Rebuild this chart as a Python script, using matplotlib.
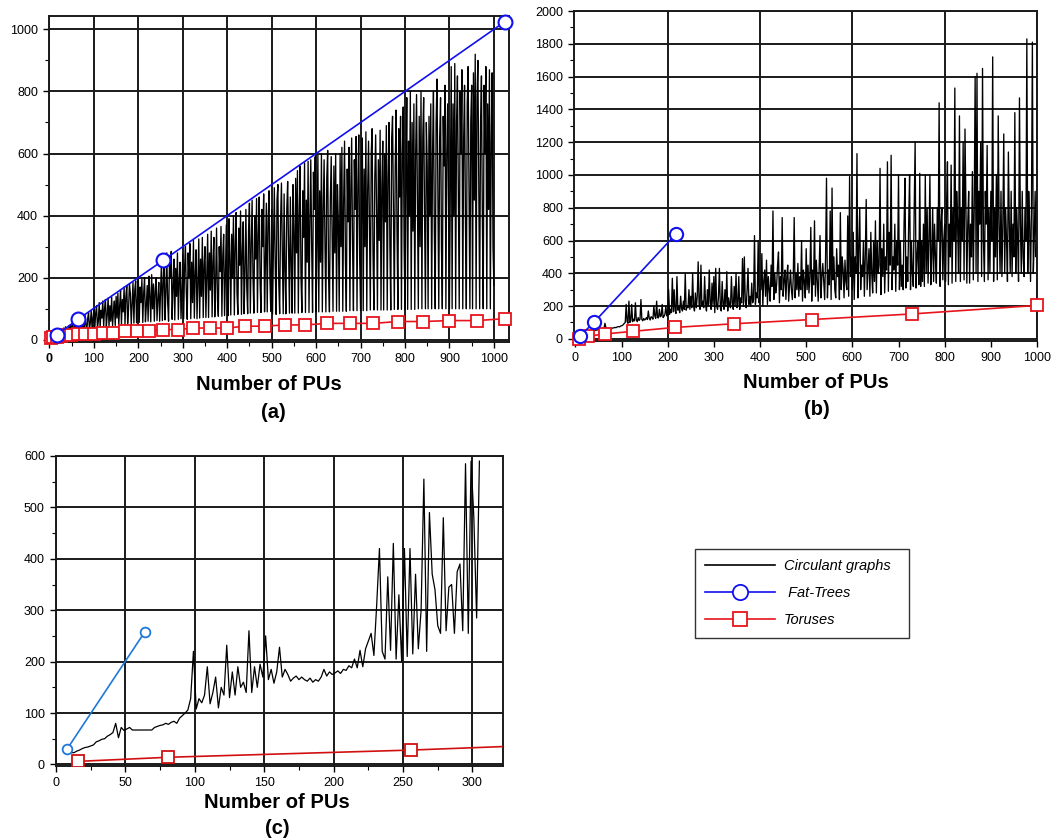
import numpy as np
import matplotlib
matplotlib.use('Agg')
import matplotlib.pyplot as plt
from matplotlib.lines import Line2D
from matplotlib.ticker import MultipleLocator

plt.rcParams['font.family'] = ['Liberation Sans', 'DejaVu Sans']

# ---------------- panel (a) ----------------
# circulant graphs, one value every 2 PUs (rows of 50 PUs)
circ_a_y = [
    10, 14, 9, 18, 12, 20, 11, 24, 14, 28, 13, 30, 16, 34, 15, 38, 18, 42, 17, 35, 20, 46, 18, 48, 22,
    55, 22, 40, 62, 24, 50, 70, 25, 45, 58, 28, 75, 35, 26, 82, 50, 30, 68, 88, 32, 55, 95, 33, 70, 100,
    36, 85, 110, 38, 60, 120, 40, 95, 70, 125, 42, 100, 130, 40, 80, 135, 44, 110, 60, 138, 45, 90, 125, 46, 140,
    70, 150, 46, 110, 160, 48, 130, 90, 170, 50, 140, 175, 52, 100, 180, 150, 50, 120, 185, 54, 160, 190, 55, 130, 195,
    56, 170, 120, 195, 56, 150, 200, 58, 110, 175, 60, 205, 140, 58, 210, 100, 180, 60, 160, 200, 62, 130, 185, 60, 150,
    250, 62, 180, 270, 64, 150, 280, 120, 60, 240, 200, 285, 66, 170, 260, 64, 230, 140, 280, 66, 190, 250, 68, 160, 275,
    68, 230, 300, 150, 66, 280, 200, 310, 68, 250, 120, 320, 70, 210, 290, 68, 180, 325, 70, 260, 140, 330, 72, 240, 300,
    72, 200, 340, 72, 280, 160, 350, 74, 250, 330, 74, 190, 360, 130, 76, 300, 220, 365, 76, 270, 340, 78, 210, 370, 150,
    78, 390, 260, 80, 340, 200, 400, 80, 300, 410, 150, 82, 360, 240, 415, 82, 280, 380, 84, 220, 420, 170, 84, 350, 440,
    86, 300, 450, 200, 86, 400, 260, 455, 88, 340, 460, 180, 88, 420, 300, 470, 90, 250, 440, 90, 380, 480, 200, 92, 420,
    82, 300, 490, 240, 82, 450, 500, 180, 84, 380, 505, 280, 84, 470, 220, 84, 420, 510, 300, 86, 460, 250, 86, 500, 350,
    86, 520, 280, 545, 86, 400, 560, 200, 88, 480, 330, 570, 88, 450, 250, 575, 88, 380, 580, 300, 88, 540, 420, 590, 90,
    300, 595, 90, 480, 250, 600, 90, 420, 580, 300, 90, 520, 610, 200, 90, 450, 590, 350, 92, 560, 280, 600, 92, 500, 380,
    92, 600, 300, 620, 92, 450, 640, 250, 92, 550, 380, 620, 94, 480, 650, 300, 94, 580, 420, 655, 94, 500, 660, 260, 94,
    400, 650, 94, 550, 300, 670, 94, 480, 640, 350, 96, 600, 680, 280, 96, 520, 660, 420, 96, 580, 320, 675, 96, 500, 640,
    96, 600, 380, 690, 96, 520, 700, 300, 96, 650, 720, 420, 98, 560, 740, 350, 98, 680, 460, 720, 98, 600, 750, 300, 98,
    520, 780, 98, 640, 400, 800, 98, 700, 350, 760, 98, 600, 790, 450, 100, 720, 300, 800, 100, 650, 780, 400, 100, 700, 560,
    100, 720, 400, 760, 100, 600, 800, 350, 100, 700, 840, 480, 100, 650, 780, 300, 100, 720, 560, 820, 100, 600, 760, 420, 100,
    500, 880, 100, 760, 400, 890, 100, 700, 850, 450, 100, 800, 600, 870, 100, 650, 820, 380, 100, 760, 880, 500, 100, 700, 820,
    100, 860, 450, 920, 100, 780, 900, 500, 100, 700, 850, 400, 100, 820, 600, 880, 100, 760, 420, 870, 100, 640, 860, 300, 175]
circ_a_x = 2 * np.arange(1, len(circ_a_y) + 1)
fat_a_x = [16, 64, 256, 1024]
fat_a_y = [16, 66, 256, 1024]
tor_a_x = [4, 9, 16, 25, 36, 49, 64, 81, 100, 121, 144, 169, 196, 225, 256, 289,
           324, 361, 400, 441, 484, 529, 576, 625, 676, 729, 784, 841, 900, 961, 1024]
tor_a_y = [5, 8, 10, 12, 14, 16, 19, 19, 19, 22, 22, 27, 27, 27, 33, 33,
           38, 38, 38, 44, 44, 48, 48, 53, 53, 53, 59, 59, 62, 62, 68]

# ---------------- panel (b) ----------------
circ_b_y = [
    30, 32, 33, 34, 35, 36, 37, 38, 40, 41, 42, 43, 44, 46, 47, 48, 50, 49, 51, 52, 53, 52, 54, 55, 55,
    56, 57, 56, 58, 60, 62, 95, 70, 62, 63, 64, 62, 65, 66, 65, 67, 68, 70, 68, 72, 74, 75, 73, 78, 80,
    82, 88, 95, 100, 210, 105, 95, 230, 100, 110, 210, 105, 120, 110, 220, 115, 105, 130, 112, 120, 240, 118, 110, 125, 115,
    120, 130, 118, 170, 125, 115, 135, 130, 120, 200, 140, 125, 230, 130, 128, 180, 135, 140, 210, 130, 138, 150, 200, 140, 145,
    300, 150, 180, 160, 370, 165, 300, 170, 155, 380, 175, 200, 160, 260, 185, 170, 230, 180, 400, 175, 200, 190, 300, 180, 260,
    190, 400, 200, 170, 280, 190, 260, 470, 210, 180, 450, 200, 230, 190, 380, 210, 170, 300, 200, 420, 220, 180, 340, 210, 380,
    160, 430, 200, 180, 260, 430, 190, 170, 350, 210, 180, 300, 200, 410, 170, 250, 210, 190, 380, 220, 180, 320, 200, 400, 190,
    210, 380, 180, 250, 220, 490, 200, 500, 230, 190, 300, 430, 210, 260, 200, 340, 220, 240, 630, 210, 280, 250, 600, 220, 300,
    300, 520, 200, 350, 420, 260, 480, 210, 380, 300, 230, 450, 320, 780, 240, 400, 280, 330, 450, 530, 220, 380, 300, 740, 260,
    350, 420, 240, 380, 450, 230, 330, 420, 300, 240, 380, 740, 250, 400, 300, 460, 260, 380, 300, 600, 230, 420, 350, 250, 550,
    300, 450, 280, 380, 680, 230, 420, 330, 720, 260, 480, 350, 230, 420, 630, 250, 380, 460, 350, 240, 500, 980, 250, 420, 330,
    780, 240, 920, 360, 500, 300, 250, 550, 380, 450, 240, 770, 300, 500, 420, 250, 480, 350, 300, 750, 260, 990, 380, 500, 300,
    650, 240, 500, 400, 1130, 250, 550, 800, 300, 450, 380, 600, 260, 500, 850, 300, 420, 550, 260, 650, 400, 280, 600, 350, 720,
    280, 600, 400, 450, 1040, 270, 550, 380, 700, 280, 500, 420, 1080, 290, 650, 450, 1120, 300, 500, 420, 700, 290, 600, 450, 1000,
    300, 600, 320, 450, 300, 700, 980, 310, 500, 350, 700, 1000, 300, 600, 400, 320, 800, 1200, 310, 500, 600, 330, 1010, 320, 600,
    350, 700, 320, 1000, 400, 800, 340, 600, 1000, 330, 500, 800, 350, 700, 500, 340, 800, 600, 1440, 320, 700, 800, 360, 600, 700,
    350, 800, 1080, 330, 700, 500, 1060, 340, 800, 600, 1530, 350, 900, 700, 400, 1360, 350, 800, 600, 1200, 360, 1280, 800, 340, 700,
    900, 340, 700, 500, 1020, 360, 800, 1600, 400, 1620, 350, 900, 700, 1200, 380, 1650, 600, 350, 900, 700, 1180, 360, 800, 400, 900,
    600, 1720, 350, 800, 500, 1000, 360, 1360, 700, 400, 900, 380, 700, 1250, 400, 800, 600, 350, 1140, 700, 400, 900, 380, 700, 500,
    1380, 400, 800, 600, 350, 1470, 700, 400, 900, 500, 380, 800, 600, 1830, 400, 900, 700, 350, 800, 1810, 400, 600, 900, 500, 650]
circ_b_x = 2 * np.arange(1, len(circ_b_y) + 1)
fat_b_x = [10, 40, 218]
fat_b_y = [18, 100, 640]
tor_b_x = [8, 27, 64, 125, 216, 343, 512, 729, 1000]
tor_b_y = [2, 16, 30, 46, 70, 92, 118, 152, 204]

# ---------------- panel (c) ----------------
circ_c_y = [23, 23, 23, 26, 28, 31, 33, 34, 36, 38,
            44, 46, 49, 50, 55, 58, 62, 80, 52, 72,
            66, 69, 72, 67, 67, 67, 67, 67, 67, 67,
            67, 72, 74, 76, 77, 80, 78, 82, 84, 80,
            90, 95, 100, 106, 128, 220, 108, 128, 120, 135,
            190, 118, 140, 170, 110, 150, 135, 232, 130, 180,
            135, 190, 150, 160, 140, 260, 140, 190, 150, 195,
            170, 250, 165, 185, 158, 180, 228, 170, 185, 175,
            162, 168, 172, 165, 170, 165, 162, 168, 160, 165,
            162, 170, 185, 172, 180, 175, 178, 182, 177, 185,
            183, 192, 188, 205, 188, 222, 190, 225, 240, 255,
            212, 310, 420, 220, 205, 365, 222, 430, 205, 330,
            200, 420, 210, 420, 215, 370, 225, 300, 555, 220,
            490, 370, 340, 270, 255, 480, 260, 345, 350, 255,
            375, 390, 260, 585, 255, 590, 480, 285, 590]
circ_c_x = 9 + 2 * np.arange(len(circ_c_y))
fat_c_x = [8, 64]
fat_c_y = [30, 258]
tor_c_x = [16, 81, 256, 625]
tor_c_y = [6, 14, 28, 66]

W, H = 1062, 840
fig = plt.figure(figsize=(W / 100, H / 100), dpi=100)


def px_axes(left, top, right, bottom):
    return fig.add_axes([left / W, 1 - bottom / H, (right - left) / W, (bottom - top) / H])


def style(ax, xmaj, xmin, ymaj, ymin):
    ax.xaxis.set_major_locator(MultipleLocator(xmaj))
    ax.xaxis.set_minor_locator(MultipleLocator(xmin))
    ax.yaxis.set_major_locator(MultipleLocator(ymaj))
    ax.yaxis.set_minor_locator(MultipleLocator(ymin))
    ax.grid(True, which='major', color='#1a1a1a', lw=1.4)
    ax.set_axisbelow(True)
    for s in ax.spines.values():
        s.set_color('#1a1a1a')
        s.set_linewidth(1.4)
    ax.tick_params(which='major', direction='out', length=4, width=1.0, labelsize=9, pad=4)
    ax.tick_params(which='minor', direction='out', length=3, width=0.8)


blue = '#1010f0'
red = '#e8141c'

# (a)
ax = px_axes(49, 16, 509, 342)
ax.plot(circ_a_x, circ_a_y, color='black', lw=0.95, zorder=2)
ax.plot(tor_a_x, tor_a_y, color=red, lw=1.2, marker='s', ms=8, mfc='white', mec=red, mew=1.3,
        zorder=3, clip_on=False)
ax.plot(fat_a_x, fat_a_y, color=blue, lw=1.2, marker='o', ms=10, mfc='white', mec=blue, mew=1.5,
        zorder=4, clip_on=False)
ax.set_xlim(-1, 1034)
ax.set_ylim(-7, 1043)
style(ax, 100, 50, 200, 100)
ax.set_xticks(range(0, 1001, 100))
ax.get_xticklabels()[0].set_fontweight('bold')
fig.text(269 / W, 1 - 385 / H, 'Number of PUs', ha='center', va='center', fontsize=14.5, fontweight='bold')
fig.text(273 / W, 1 - 412 / H, '(a)', ha='center', va='center', fontsize=14.5, fontweight='bold')

# (b)
ax = px_axes(574, 11, 1037, 341)
ax.plot(circ_b_x, circ_b_y, color='black', lw=0.95, zorder=2)
ax.plot(tor_b_x, tor_b_y, color=red, lw=1.2, marker='s', ms=8, mfc='white', mec=red, mew=1.3,
        zorder=3, clip_on=False)
ax.plot(fat_b_x, fat_b_y, color=blue, lw=1.2, marker='o', ms=9.5, mfc='white', mec=blue, mew=1.5,
        zorder=4, clip_on=False)
ax.set_xlim(-3, 1000)
ax.set_ylim(-13, 2000)
style(ax, 200, 100, 200, 100)
ax.set_xticks(range(0, 1001, 100))
fig.text(816 / W, 1 - 383 / H, 'Number of PUs', ha='center', va='center', fontsize=14.5, fontweight='bold')
fig.text(817 / W, 1 - 409 / H, '(b)', ha='center', va='center', fontsize=14.5, fontweight='bold')
# only every 200 PUs has a vertical grid line
ax.xaxis.grid(False)
for gx in range(200, 1001, 200):
    ax.axvline(gx, color='#1a1a1a', lw=1.4, zorder=0.5)

# (c)
ax = px_axes(56, 456, 503, 766)
ax.plot(circ_c_x, circ_c_y, color='black', lw=0.9, zorder=2)
ax.plot(tor_c_x, tor_c_y, color='#d01010', lw=1.2, marker='s', ms=8, mfc='white', mec='#d01010', mew=1.3,
        zorder=3)
ax.plot(fat_c_x, fat_c_y, color='#1f78d8', lw=1.2, marker='o', ms=7, mfc='white', mec='#1f78d8', mew=1.3,
        zorder=4, clip_on=False)
ax.set_xlim(0, 322)
ax.set_ylim(-3, 600)
style(ax, 50, 25, 100, 50)
ax.get_xticklabels()[0].set_fontweight('bold')
fig.text(277 / W, 1 - 803 / H, 'Number of PUs', ha='center', va='center', fontsize=14.5, fontweight='bold')
fig.text(277 / W, 1 - 828 / H, '(c)', ha='center', va='center', fontsize=14.5, fontweight='bold')

# legend
handles = [Line2D([], [], color='black', lw=1.2),
           Line2D([], [], color=blue, lw=1.2, marker='o', ms=11, mfc='white', mec=blue, mew=1.3),
           Line2D([], [], color=red, lw=1.2, marker='s', ms=10, mfc='white', mec=red, mew=1.3)]
labels = ['Circulant graphs  ', ' Fat-Trees', 'Toruses']
leg = fig.legend(handles, labels, loc='upper left', bbox_to_anchor=(695 / W, 1 - 549 / H),
                 frameon=True, fancybox=False, edgecolor='black',
                 prop={'style': 'italic', 'size': 10.5}, handlelength=4.8, handletextpad=0.6,
                 labelspacing=0.9, borderpad=0.7, borderaxespad=0)
leg.get_frame().set_linewidth(1.0)

fig.savefig('out.png', dpi=100)
